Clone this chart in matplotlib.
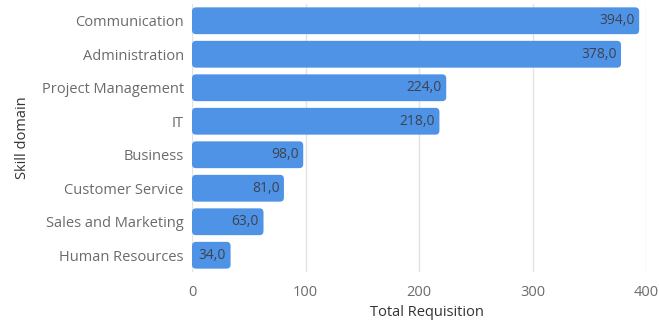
import matplotlib
matplotlib.use("Agg")
from matplotlib import pyplot as plt
from matplotlib.patches import FancyBboxPatch

plt.rcParams['font.family'] = ['Open Sans', 'DejaVu Sans']

domains = ["Communication", "Administration", "Project Management", "IT",
           "Business", "Customer Service", "Sales and Marketing", "Human Resources"]
requisitions = [394, 378, 224, 218, 98, 81, 63, 34]
x_ticks = [0, 100, 200, 300, 400]

bar_color = "#4f93e6"
fig = plt.figure(figsize=(6.59, 3.2), dpi=100)
ax = fig.add_axes([192 / 659, 1 - 272 / 320, 454 / 659, 268 / 320])

ypos = list(range(len(domains)))
bars = ax.barh(ypos, requisitions, height=0.8, color=bar_color)

# swap the plain bars for rounded ones
for b in bars:
    x0, y0 = b.get_x(), b.get_y()
    w, h = b.get_width(), b.get_height()
    b.set_visible(False)
    r = 3.5
    patch = FancyBboxPatch((x0, y0), w, h,
                           boxstyle="round,pad=0,rounding_size=%s" % r,
                           mutation_aspect=0.035,
                           facecolor=bar_color, edgecolor="none", zorder=3)
    ax.add_patch(patch)

for y, v in zip(ypos, requisitions):
    ax.text(v - 4, y, "{:.1f}".format(v).replace(".", ","), ha="right", va="center",
            fontsize=10, color="#3d4350", zorder=4)

ax.set_xlim(0, 400)
ax.set_ylim(len(domains) - 0.5, -0.5)
ax.set_yticks(ypos)
ax.set_yticklabels(domains)
ax.set_xticks(x_ticks)
ax.tick_params(axis="both", length=0, labelsize=10.5, labelcolor="#6b6b6b")
ax.tick_params(axis="x", pad=9)
ax.tick_params(axis="y", pad=6)
ax.grid(axis="x", color="#e3e3e3", linewidth=1, zorder=0)
ax.set_axisbelow(True)
for s in ax.spines.values():
    s.set_visible(False)

ax.set_xlabel("Total Requisition", fontsize=10.5, color="#333333")
ax.xaxis.set_label_coords(0.518, -0.152)
ax.xaxis.label.set_va("center")
ax.set_ylabel("Skill domain", fontsize=10.5, color="#333333", labelpad=8)

fig.savefig("out.png", dpi=100)
